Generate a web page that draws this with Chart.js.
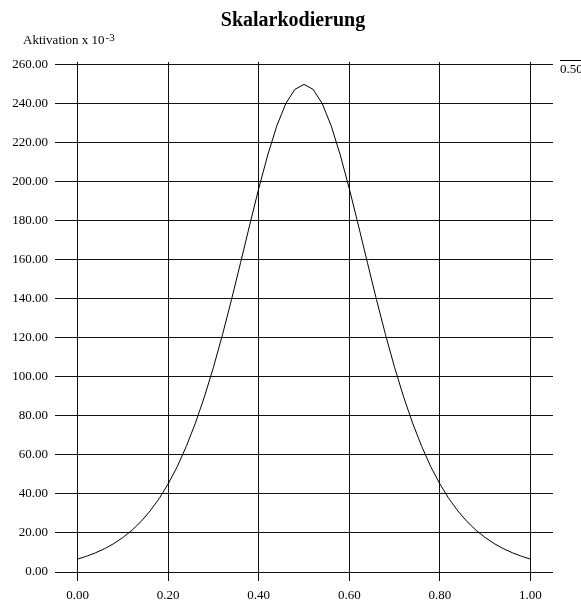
<!DOCTYPE html>
<html>
<head>
<meta charset="utf-8">
<script src="https://cdn.jsdelivr.net/npm/chart.js@4/dist/chart.umd.min.js"></script>
<style>
html,body{margin:0;padding:0;background:#fff;}
canvas{display:block;}
</style>
</head>
<body>
<canvas id="c" width="581" height="604"></canvas>
<script>
const xValues = [0.00,0.02,0.04,0.06,0.08,0.10,0.12,0.14,0.16,0.18,0.20,0.22,0.24,0.26,0.28,0.30,0.32,0.34,0.36,0.38,0.40,0.42,0.44,0.46,0.48,0.50,0.52,0.54,0.56,0.58,0.60,0.62,0.64,0.66,0.68,0.70,0.72,0.74,0.76,0.78,0.80,0.82,0.84,0.86,0.88,0.90,0.92,0.94,0.96,0.98,1.00];
const activation = [6.6,8.1,9.9,12.0,14.6,17.7,21.4,25.9,31.3,37.6,45.2,54.0,64.4,76.3,89.8,105.0,121.7,139.8,158.7,177.9,196.6,213.9,228.8,240.3,247.5,250.0,247.5,240.3,228.8,213.9,196.6,177.9,158.7,139.8,121.7,105.0,89.8,76.3,64.4,54.0,45.2,37.6,31.3,25.9,21.4,17.7,14.6,12.0,9.9,8.1,6.6];
const xTicks = [0.00,0.20,0.40,0.60,0.80,1.00];
const yTicks = [0,20,40,60,80,100,120,140,160,180,200,220,240,260];
const titleText = "Skalarkodierung";
const yAxisLabel = "Aktivation x 10";
const yAxisExp = "-3";
const cornerLabel = "0.50";

const FONT = '"Liberation Serif","Times New Roman",serif';

const textPlugin = {
  id: 'texts',
  afterDraw(chart) {
    const ctx = chart.ctx;
    ctx.save();
    ctx.fillStyle = '#000';
    ctx.font = 'bold 20px ' + FONT;
    ctx.textAlign = 'center';
    ctx.textBaseline = 'alphabetic';
    ctx.fillText(titleText, 293, 26);
    ctx.textAlign = 'left';
    ctx.font = '13px ' + FONT;
    ctx.fillText(yAxisLabel, 23, 44);
    const w = ctx.measureText(yAxisLabel).width;
    ctx.font = '11px ' + FONT;
    ctx.fillText(yAxisExp, 23 + w + 1, 41);
    ctx.font = '13px ' + FONT;
    ctx.fillText(cornerLabel, 560, 73);
    ctx.strokeStyle = '#000';
    ctx.lineWidth = 1;
    ctx.beginPath();
    ctx.moveTo(560, 60.5);
    ctx.lineTo(581, 60.5);
    ctx.stroke();
    ctx.restore();
  }
};

new Chart(document.getElementById('c'), {
  type: 'line',
  data: {
    labels: xValues,
    datasets: [{
      data: xValues.map((x, i) => ({x: x, y: activation[i]})),
      borderColor: '#000',
      borderWidth: 1,
      pointRadius: 0,
      tension: 0,
      fill: false
    }]
  },
  options: {
    responsive: false,
    animation: false,
    devicePixelRatio: 1,
    layout: {padding: {top: 62, right: 28, bottom: 0, left: 0}},
    plugins: {legend: {display: false}, title: {display: false}, tooltip: {enabled: false}},
    scales: {
      x: {
        type: 'linear',
        min: -0.05,
        max: 1.05,
        afterBuildTicks: (s) => { s.ticks = xTicks.map(v => ({value: v})); },
        afterFit: (s) => { s.height = 32; },
        border: {display: false},
        grid: {color: '#111', lineWidth: 1, drawTicks: true, tickLength: 9, tickColor: '#111'},
        ticks: {
          padding: 7,
          color: '#000',
          font: {family: FONT, size: 13},
          maxRotation: 0,
          callback: (v) => Number(v).toFixed(2)
        }
      },
      y: {
        type: 'linear',
        min: 0,
        max: 261.5,
        afterBuildTicks: (s) => { s.ticks = yTicks.map(v => ({value: v})); },
        afterFit: (s) => { s.width = 55; },
        border: {display: false},
        grid: {color: '#111', lineWidth: 1, drawTicks: false},
        ticks: {
          padding: 7,
          color: '#000',
          font: {family: FONT, size: 13},
          callback: (v) => Number(v).toFixed(2)
        }
      }
    }
  },
  plugins: [textPlugin]
});
</script>
</body>
</html>
